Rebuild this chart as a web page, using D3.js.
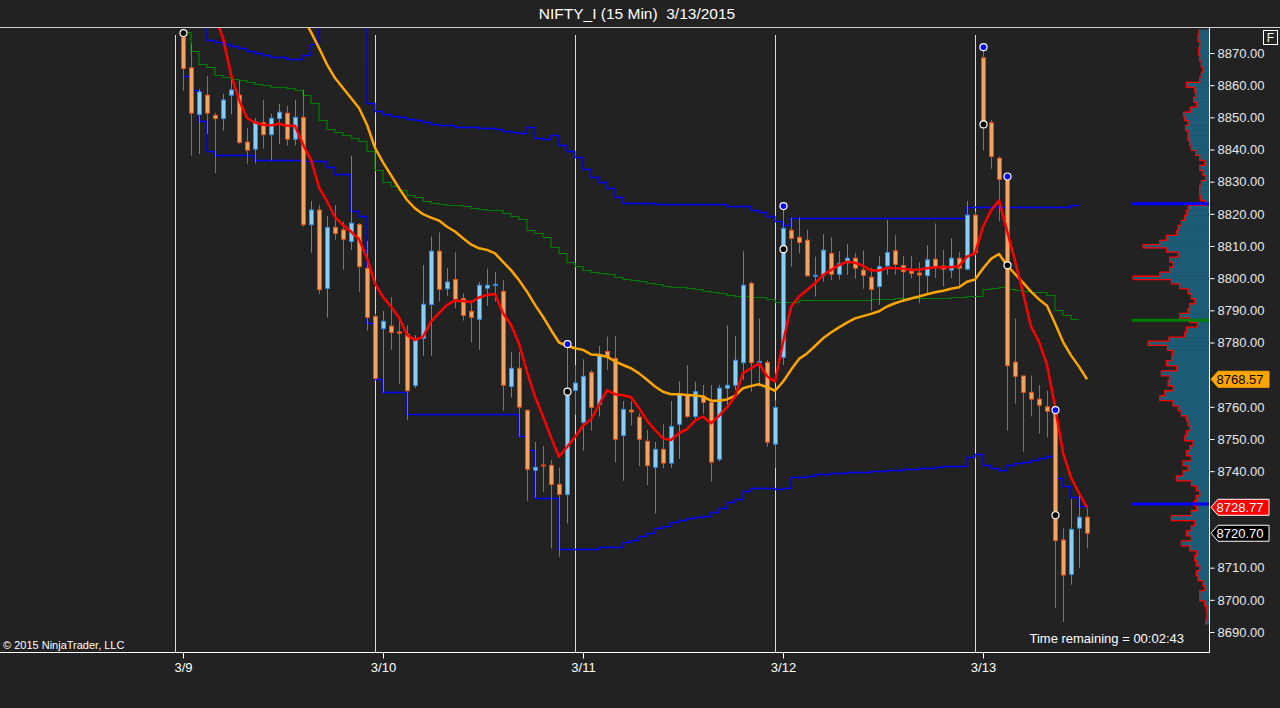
<!DOCTYPE html>
<html>
<head>
<meta charset="utf-8">
<script src="https://cdn.jsdelivr.net/npm/d3@7"></script>
<style>
html, body { margin: 0; padding: 0; background: #222222; }
svg { display: block; font-family: "Liberation Sans", Arial, sans-serif; }
</style>
</head>
<body>
<svg id="chart" width="1280" height="708"></svg>
<script>

// ---- data (15 min bars, bar index 1 = first bar of 3/9) ----
var firstBar = 1;
var dayLabels = ['3/9', '3/10', '3/11', '3/12', '3/13'];
var dayBreakBars = [0, 25, 50, 75, 100];
var dayTickBars = [1, 26, 51, 76, 101];

var opens = [8874.9, 8865.4, 8850.9, 8856.9, 8850.6, 8849.6, 8856.9, 8856.9, 8842.3, 8840.1,
  8848.4, 8844.6, 8849.6, 8851.3, 8843.2, 8850.0, 8816.6, 8821.2, 8796.8, 8815.8,
  8815.0, 8811.4, 8816.7, 8803.1, 8788.1, 8784.3, 8785.1, 8783.3, 8782.6, 8766.6,
  8781.3, 8791.8, 8808.4, 8796.7, 8799.6, 8793.7, 8789.7, 8787.2, 8796.9, 8797.9,
  8795.9, 8766.3, 8772.0, 8758.9, 8740.3, 8741.9, 8741.8, 8735.9, 8732.7, 8765.1,
  8755.2, 8770.7, 8760.7, 8777.2, 8775.1, 8751.1, 8759.0, 8756.8, 8749.3, 8741.2,
  8746.8, 8742.5, 8754.6, 8763.5, 8757.0, 8763.4, 8761.4, 8743.7, 8765.8, 8766.7,
  8773.7, 8798.4, 8773.8, 8773.8, 8748.4, 8775.4, 8814.9, 8812.7, 8811.8, 8800.7,
  8801.0, 8807.7, 8801.2, 8804.8, 8806.2, 8802.5, 8800.3, 8797.4, 8803.8, 8808.5,
  8803.9, 8802.2, 8801.6, 8800.8, 8805.9, 8803.8, 8802.5, 8806.2, 8802.8, 8819.6,
  8868.5, 8848.3, 8837.3, 8830.7, 8773.9, 8769.6, 8764.5, 8762.4, 8760.0, 8758.8,
  8718.6, 8707.9, 8722.3, 8725.7];
var highs = [8876.2, 8873.0, 8858.8, 8862.9, 8851.4, 8857.3, 8862.3, 8861.4, 8846.7, 8849.8,
  8855.4, 8851.1, 8854.2, 8853.6, 8855.4, 8858.6, 8824.0, 8822.8, 8819.3, 8822.8,
  8817.6, 8838.1, 8817.1, 8811.6, 8789.0, 8789.8, 8794.1, 8788.0, 8785.4, 8782.3,
  8804.1, 8812.9, 8814.2, 8803.1, 8808.0, 8795.3, 8793.2, 8798.8, 8802.9, 8801.9,
  8799.4, 8777.1, 8777.1, 8759.2, 8749.1, 8747.8, 8743.5, 8741.1, 8779.5, 8773.0,
  8774.8, 8771.5, 8778.9, 8781.8, 8782.0, 8761.8, 8761.8, 8758.0, 8752.8, 8749.1,
  8754.7, 8761.8, 8768.0, 8773.0, 8767.8, 8766.8, 8766.8, 8766.8, 8785.4, 8782.0,
  8808.4, 8798.9, 8787.5, 8774.6, 8762.0, 8822.4, 8818.8, 8818.8, 8815.0, 8806.7,
  8813.7, 8812.7, 8808.4, 8810.6, 8807.9, 8808.6, 8803.1, 8806.9, 8818.1, 8813.4,
  8806.9, 8806.9, 8805.0, 8810.3, 8817.0, 8808.8, 8812.4, 8808.1, 8824.0, 8820.7,
  8871.8, 8849.2, 8837.9, 8831.6, 8787.4, 8769.7, 8769.7, 8766.8, 8765.0, 8759.0,
  8722.2, 8731.4, 8732.9, 8728.5];
var lows = [8858.3, 8838.1, 8838.6, 8844.8, 8832.7, 8845.9, 8850.9, 8841.7, 8835.6, 8835.7,
  8840.3, 8836.6, 8841.7, 8841.2, 8841.3, 8816.0, 8807.9, 8795.1, 8787.7, 8811.9,
  8802.6, 8808.8, 8795.8, 8783.7, 8768.4, 8764.4, 8777.7, 8767.1, 8755.9, 8765.8,
  8775.9, 8775.9, 8792.7, 8794.5, 8790.6, 8786.8, 8780.0, 8777.7, 8791.4, 8792.7,
  8758.8, 8762.9, 8750.7, 8730.8, 8731.8, 8733.6, 8716.0, 8713.4, 8723.8, 8757.5,
  8746.4, 8752.6, 8757.0, 8771.5, 8742.7, 8737.0, 8754.2, 8741.6, 8735.7, 8726.9,
  8740.9, 8741.0, 8743.8, 8756.5, 8755.9, 8757.8, 8736.8, 8743.0, 8760.1, 8765.2,
  8768.4, 8764.7, 8766.3, 8747.6, 8741.0, 8773.0, 8803.6, 8807.7, 8800.5, 8794.3,
  8798.9, 8799.4, 8799.6, 8801.0, 8799.8, 8796.7, 8789.9, 8791.7, 8801.0, 8801.0,
  8793.0, 8800.0, 8792.2, 8795.3, 8800.0, 8797.4, 8800.0, 8797.4, 8802.5, 8807.2,
  8839.7, 8834.0, 8817.7, 8752.6, 8761.0, 8746.1, 8757.0, 8751.7, 8750.5, 8697.5,
  8693.1, 8704.7, 8710.0, 8716.0];
var closes = [8865.2, 8851.3, 8857.9, 8851.3, 8849.6, 8855.4, 8858.5, 8842.2, 8839.8, 8848.5,
  8844.6, 8849.7, 8851.6, 8843.2, 8850.0, 8816.6, 8821.2, 8796.4, 8815.8, 8813.9,
  8812.1, 8817.1, 8803.6, 8787.8, 8768.8, 8786.6, 8783.1, 8782.9, 8765.0, 8781.0,
  8791.9, 8808.4, 8796.5, 8798.8, 8793.5, 8788.4, 8787.8, 8797.8, 8797.8, 8798.1,
  8766.7, 8772.0, 8759.9, 8740.6, 8741.2, 8741.7, 8735.9, 8732.8, 8765.2, 8767.4,
  8769.5, 8759.8, 8776.3, 8775.6, 8749.9, 8759.2, 8758.4, 8749.9, 8741.7, 8746.8,
  8742.5, 8753.9, 8763.9, 8757.0, 8764.7, 8761.4, 8742.8, 8765.8, 8766.7, 8774.5,
  8797.8, 8773.7, 8774.1, 8749.0, 8759.8, 8815.5, 8812.4, 8811.1, 8800.7, 8800.9,
  8808.7, 8801.2, 8804.6, 8806.2, 8803.1, 8800.9, 8796.5, 8803.6, 8808.0, 8804.3,
  8802.0, 8801.5, 8801.0, 8805.7, 8803.4, 8802.8, 8806.2, 8803.1, 8819.6, 8807.9,
  8848.5, 8837.8, 8830.7, 8772.8, 8769.5, 8764.5, 8762.4, 8760.5, 8758.6, 8718.4,
  8707.7, 8721.9, 8725.7, 8720.70];

// fast average (red), starts at bar 5
var fastStart = 5;
var fastAvg = [8881, 8874.7, 8863.3, 8855.5, 8849.8, 8848.4, 8847.7, 8847.5, 8848.0, 8847.4,
  8847.4, 8841.5, 8836.8, 8828.2, 8823.9, 8819.0, 8816.5, 8814.5, 8812.1, 8806.2,
  8798.4, 8794.1, 8791.2, 8787.8, 8782.3, 8780.8, 8781.8, 8786.5, 8789.1, 8791.7,
  8793.0, 8792.9, 8792.5, 8794.0, 8794.8, 8795.1, 8789.1, 8785.5, 8779.7, 8770.9,
  8763.2, 8757.0, 8750.5, 8744.5, 8747.5, 8750.6, 8754.1, 8756.1, 8760.6, 8765.2,
  8763.9, 8763.6, 8763.0, 8759.6, 8755.7, 8752.8, 8750.2, 8749.7, 8751.8, 8753.1,
  8755.7, 8757.0, 8754.9, 8757.2, 8759.9, 8763.2, 8770.5, 8772.0, 8773.5, 8769.5,
  8767.8, 8780.0, 8791.1, 8794.3, 8796.3, 8798.4, 8801.0, 8802.5, 8804.1, 8805.1,
  8804.8, 8803.8, 8802.4, 8802.4, 8803.2, 8803.1, 8802.9, 8802.6, 8802.6, 8803.1,
  8803.4, 8803.4, 8803.4, 8803.8, 8806.7, 8807.7, 8816.0, 8821.0, 8824.2, 8814.8,
  8805.4, 8795.5, 8785.0, 8780.2, 8773.1, 8760.0, 8745.7, 8738.0, 8733.2, 8728.77];

// slow average (orange), starts at bar 16
var slowStart = 16;
var slowAvg = [8881, 8876.5, 8871.6, 8866.4, 8862.2, 8859.1, 8856.0, 8852.9, 8847.7,
  8840.5, 8836.0, 8832.0, 8828.0, 8824.3, 8821.7, 8819.9, 8818.8, 8817.9, 8816.0,
  8814.5, 8812.4, 8810.5, 8809.3, 8808.8, 8807.7, 8805.1, 8802.5, 8799.4, 8795.8,
  8791.7, 8788.0, 8783.9, 8780.0, 8779.0, 8778.2, 8777.7, 8776.3, 8776.1, 8775.6,
  8774.1, 8773.0, 8772.0, 8770.4, 8768.4, 8766.3, 8764.7, 8763.9, 8763.9, 8763.7,
  8763.5, 8763.2, 8761.9, 8761.9, 8762.3, 8763.4, 8765.8, 8766.5, 8767.0, 8766.1,
  8765.0, 8767.8, 8771.5, 8774.9, 8776.6, 8778.9, 8781.3, 8783.1, 8784.7, 8786.2,
  8787.5, 8788.2, 8788.9, 8789.7, 8791.2, 8792.2, 8793.0, 8793.7, 8794.3, 8795.0,
  8795.6, 8796.1, 8796.7, 8797.2, 8798.9, 8799.6, 8803.0, 8806.0, 8807.5, 8804.0,
  8801.3, 8798.6, 8795.8, 8793.4, 8791.4, 8786.0, 8780.2, 8776.0, 8772.5, 8768.57];

// upper blue band (step), starts at bar 3
var upperStart = 3;
var upperBand = [8880, 8874.1, 8873.4, 8872.8, 8872.1, 8871.5, 8870.7, 8870.0, 8869.3, 8868.9,
  8868.7, 8868.2, 8868.0, 8869.3, 8872.8, 8880, 8880, 8880, 8880, 8880,
  8880, 8854.5, 8851.9, 8851.0, 8850.3, 8850.0, 8849.5, 8849.2, 8848.4, 8847.8,
  8847.5, 8847.5, 8847.1, 8846.9, 8846.9, 8846.6, 8846.6, 8846.3, 8845.8, 8845.3,
  8845.1, 8846.9, 8843.6, 8843.4, 8844.4, 8841.3, 8839.4, 8837.6, 8833.8, 8831.5,
  8830.0, 8828.1, 8825.3, 8823.3, 8823.3, 8823.3, 8823.3, 8823.0, 8823.0, 8823.0,
  8823.0, 8823.0, 8823.0, 8823.0, 8823.0, 8823.0, 8822.4, 8822.4, 8822.4, 8821.2,
  8820.5, 8819.3, 8817.8, 8816.5, 8818.8, 8818.8, 8818.8, 8818.8, 8818.8, 8818.8,
  8818.8, 8818.8, 8818.8, 8818.8, 8818.8, 8818.8, 8818.8, 8818.8, 8818.8, 8818.8,
  8818.8, 8818.8, 8818.8, 8818.8, 8818.8, 8818.8, 8822.2, 8822.2, 8822.2, 8822.2,
  8822.2, 8822.2, 8822.2, 8822.2, 8822.2, 8822.2, 8822.2, 8822.2, 8822.2, 8822.7];

// lower blue band (step), starts at bar 1
var lowerStart = 1;
var lowerBand = [8862.7, 8858.6, 8848.8, 8839.4, 8838.2, 8838.2, 8838.2, 8838.2, 8838.2, 8836.6,
  8836.6, 8836.6, 8836.6, 8836.6, 8836.6, 8836.3, 8836.3, 8836.3, 8834.5, 8832.4,
  8832.4, 8820.8, 8819.2, 8786.0, 8768.6, 8764.5, 8764.5, 8764.5, 8757.7, 8757.7,
  8757.7, 8757.7, 8757.7, 8757.7, 8757.7, 8757.7, 8757.7, 8757.7, 8757.7, 8757.7,
  8757.7, 8757.7, 8751.0, 8746.6, 8731.6, 8731.6, 8731.6, 8715.7, 8715.7, 8715.7,
  8715.7, 8715.7, 8716.3, 8716.3, 8716.3, 8717.9, 8718.6, 8719.7, 8720.7, 8722.2,
  8723.1, 8724.1, 8724.8, 8725.4, 8725.9, 8726.2, 8727.3, 8728.5, 8730.5, 8731.2,
  8733.9, 8734.7, 8734.7, 8734.7, 8734.5, 8734.7, 8738.3, 8738.3, 8738.5, 8739.0,
  8739.0, 8739.3, 8739.3, 8739.7, 8739.7, 8739.7, 8740.0, 8740.0, 8740.4, 8740.4,
  8740.7, 8740.7, 8740.9, 8740.9, 8741.2, 8741.7, 8741.7, 8741.7, 8744.3, 8745.3,
  8741.9, 8740.9, 8740.4, 8741.9, 8742.4, 8743.0, 8743.5, 8744.0, 8744.6, 8738.0,
  8735.4, 8731.9, 8729.1];

// green step line, starts at bar 1
var greenStart = 1;
var greenLine = [8876.5, 8870.5, 8866.6, 8865.5, 8863.1, 8862.4, 8862.0, 8861.7, 8861.0, 8860.4,
  8860.0, 8859.3, 8859.3, 8859.0, 8858.6, 8857.0, 8854.5, 8849.3, 8846.4, 8845.3,
  8844.6, 8843.6, 8842.5, 8839.4, 8833.5, 8829.8, 8828.5, 8827.5, 8825.8, 8825.1,
  8823.9, 8823.4, 8823.1, 8822.6, 8822.6, 8822.3, 8821.8, 8821.4, 8821.1, 8821.1,
  8820.3, 8819.2, 8818.4, 8815.0, 8814.0, 8812.7, 8809.6, 8807.8, 8805.0, 8803.7,
  8802.5, 8801.8, 8801.5, 8801.2, 8800.5, 8799.6, 8799.3, 8799.1, 8798.6, 8798.1,
  8797.6, 8797.2, 8797.2, 8796.8, 8796.5, 8796.1, 8795.6, 8795.3, 8794.8, 8794.5,
  8794.5, 8794.3, 8794.0, 8793.4, 8792.5, 8792.7, 8792.7, 8793.1, 8793.1, 8793.1,
  8793.1, 8793.1, 8793.1, 8793.1, 8793.1, 8793.1, 8793.5, 8793.5, 8793.5, 8793.9,
  8793.9, 8793.9, 8793.9, 8793.9, 8793.9, 8793.9, 8794.3, 8794.3, 8794.5, 8794.5,
  8796.5, 8796.8, 8797.2, 8796.5, 8796.3, 8796.1, 8795.8, 8795.6, 8794.8, 8790.1,
  8788.5, 8787.3];

// swing markers
var markerBars   = [1, 49, 49, 76, 76, 101, 101, 104, 104, 110, 110];
var markerPrices = [8876.2, 8779.5, 8764.7, 8822.4, 8809.0, 8871.8, 8847.8, 8831.6, 8804.0, 8759.0, 8726.3];
var markerKinds  = ['low', 'high', 'low', 'high', 'low', 'high', 'low', 'high', 'low', 'high', 'low'];

// volume profile on the right
var profileLevels = [8876.5, 8874.7, 8872.6, 8870.5, 8868.4, 8866.4, 8864.8, 8863.3, 8861.7, 8860.0,
  8858.6, 8857.0, 8855.5, 8854.0, 8852.4, 8850.8, 8849.6, 8848.3, 8846.7, 8845.1,
  8843.6, 8842.0, 8840.5, 8838.9, 8837.4, 8835.8, 8834.3, 8832.7, 8831.1, 8829.6,
  8828.0, 8826.5, 8824.9, 8823.4, 8821.8, 8820.3, 8818.7, 8817.2, 8815.6, 8814.1,
  8812.5, 8811.0, 8809.9, 8808.9, 8807.3, 8805.8, 8804.2, 8802.6, 8801.1, 8800.1,
  8799.0, 8797.5, 8795.9, 8794.4, 8792.8, 8791.3, 8789.7, 8788.4, 8786.9, 8785.5,
  8784.0, 8782.4, 8780.9, 8779.9, 8778.3, 8776.8, 8775.2, 8773.5, 8772.0, 8770.4,
  8768.9, 8767.3, 8765.8, 8764.2, 8762.7, 8761.1, 8759.5, 8758.0, 8756.4, 8754.9,
  8753.3, 8751.8, 8750.2, 8748.7, 8747.1, 8745.6, 8744.0, 8742.4, 8740.9, 8739.3,
  8737.8, 8736.2, 8734.7, 8733.1, 8731.6, 8730.0, 8728.5, 8726.9, 8725.4, 8723.8,
  8722.2, 8720.7, 8719.1, 8717.6, 8716.0, 8714.5, 8712.9, 8711.4, 8709.8, 8708.3,
  8706.7, 8705.2, 8703.6, 8702.1, 8700.5, 8698.9, 8697.4, 8695.8, 8694.3, 8693.2];
var profileVols = [30, 33, 28, 31, 28, 23, 18, 23, 28, 68,
  43, 40, 46, 38, 56, 76, 73, 63, 70, 63,
  63, 58, 53, 40, 28, 13, 28, 18, 10, 23,
  28, 28, 26, 13, 63, 68, 73, 83, 93, 98,
  128, 148, 198, 128, 93, 118, 108, 118, 148, 228,
  113, 88, 63, 53, 43, 58, 63, 88, 58, 36,
  68, 73, 120, 183, 125, 110, 112, 128, 98, 143,
  118, 123, 108, 133, 148, 108, 93, 83, 68, 63,
  58, 68, 73, 48, 58, 68, 53, 78, 63, 78,
  98, 53, 38, 28, 38, 43, 38, 53, 113, 43,
  53, 68, 53, 83, 58, 38, 43, 38, 28, 38,
  33, 18, 13, 28, 28, 13, 8, 6, 6, 10];
var profileLines = [8823.1, 8786.9, 8729.8];
var profileLineColors = ['#0000ff', '#008000', '#0000ff'];

var priceTicks = [8690, 8700, 8710, 8720, 8730, 8740, 8750, 8760, 8770, 8780,
  8790, 8800, 8810, 8820, 8830, 8840, 8850, 8860, 8870];

// ---- drawing ----
var svg = d3.select('#chart');
var plotRight = 1209, plotTop = 28, plotBottom = 652;

svg.append('rect').attr('width', 1280).attr('height', 708).attr('fill', '#222222');

var x = d3.scaleLinear().domain([0, 114]).range([175, 1087]);
var y = d3.scaleLinear().domain([8690, 8870]).range([632, 53]);

svg.append('defs').append('clipPath').attr('id', 'plotclip')
  .append('rect').attr('x', 0).attr('y', plotTop)
  .attr('width', plotRight).attr('height', plotBottom - plotTop);

var plot = svg.append('g').attr('clip-path', 'url(#plotclip)');

// day separators
plot.selectAll('.daysep')
  .data(dayBreakBars)
  .enter().append('line')
  .attr('x1', function(d) { return x(d) + 0.5; })
  .attr('x2', function(d) { return x(d) + 0.5; })
  .attr('y1', 35).attr('y2', plotBottom)
  .attr('stroke', '#d8d8d8').attr('stroke-width', 1);

// step lines
function stepPoints(start, vals) {
  var pts = vals.map(function(v, i) { return [start + i, v]; });
  pts.push([start + vals.length, vals[vals.length - 1]]);
  return pts;
}
var stepLine = d3.line()
  .x(function(d) { return x(d[0]); })
  .y(function(d) { return Math.round(y(d[1])) + 0.5; })
  .curve(d3.curveStepAfter);

plot.append('path').datum(stepPoints(greenStart, greenLine))
  .attr('d', stepLine).attr('fill', 'none').attr('stroke', '#008000').attr('stroke-width', 1.2);
plot.append('path').datum(stepPoints(upperStart, upperBand))
  .attr('d', stepLine).attr('fill', 'none').attr('stroke', '#0000ff').attr('stroke-width', 1.3);
plot.append('path').datum(stepPoints(lowerStart, lowerBand))
  .attr('d', stepLine).attr('fill', 'none').attr('stroke', '#0000ff').attr('stroke-width', 1.3);

// candles
var bars = opens.map(function(o, i) {
  return { n: firstBar + i, o: o, h: highs[i], l: lows[i], c: closes[i] };
});
var upWick = '#1e90ff', upFill = '#87cefa';
var dnWick = '#ff4500', dnFill = '#f4a460';

plot.selectAll('.wick')
  .data(bars)
  .enter().append('line')
  .attr('x1', function(d) { return Math.round(x(d.n)) + 0.5; })
  .attr('x2', function(d) { return Math.round(x(d.n)) + 0.5; })
  .attr('y1', function(d) { return y(d.h); })
  .attr('y2', function(d) { return y(d.l); })
  .attr('stroke', function(d) { return d.c >= d.o ? upWick : dnWick; })
  .attr('stroke-width', 1);

plot.selectAll('.body')
  .data(bars)
  .enter().append('rect')
  .attr('x', function(d) { return Math.round(x(d.n)) - 1.5; })
  .attr('y', function(d) { return y(Math.max(d.o, d.c)); })
  .attr('width', 4)
  .attr('height', function(d) { return Math.max(1, Math.abs(y(d.o) - y(d.c))); })
  .attr('fill', function(d) { return d.c >= d.o ? upFill : dnFill; })
  .attr('stroke', function(d) { return d.c >= d.o ? upWick : dnWick; })
  .attr('stroke-width', 1);

// averages
var avgLine = d3.line()
  .x(function(d) { return x(d[0]); })
  .y(function(d) { return y(d[1]); });

plot.append('path')
  .datum(slowAvg.map(function(v, i) { return [slowStart + i, v]; }))
  .attr('d', avgLine).attr('fill', 'none')
  .attr('stroke', '#ffa500').attr('stroke-width', 2.5).attr('stroke-linejoin', 'round');
plot.append('path')
  .datum(fastAvg.map(function(v, i) { return [fastStart + i, v]; }))
  .attr('d', avgLine).attr('fill', 'none')
  .attr('stroke', '#ff0000').attr('stroke-width', 2.5).attr('stroke-linejoin', 'round');

// swing markers
plot.selectAll('.marker')
  .data(markerBars)
  .enter().append('circle')
  .attr('cx', function(d) { return x(d) + 0.5; })
  .attr('cy', function(d, i) { return y(markerPrices[i]); })
  .attr('r', 3.5)
  .attr('fill', function(d, i) { return markerKinds[i] == 'high' ? '#0000ff' : '#000000'; })
  .attr('stroke', '#ffffff').attr('stroke-width', 1.2);

// volume profile
var pw = d3.scaleLinear().domain([0, 228]).range([0, 76]);
var rows = profileLevels.map(function(lv, i) {
  var top = i == 0 ? lv + 0.8 : (profileLevels[i - 1] + lv) / 2;
  var bot = i == profileLevels.length - 1 ? lv - 0.8 : (lv + profileLevels[i + 1]) / 2;
  return { y0: y(top), y1: y(bot), w: pw(profileVols[i]) };
});
var prof = svg.append('g');
prof.selectAll('rect')
  .data(rows)
  .enter().append('rect')
  .attr('x', function(d) { return plotRight - d.w; })
  .attr('y', function(d) { return d.y0; })
  .attr('width', function(d) { return d.w; })
  .attr('height', function(d) { return d.y1 - d.y0 + 0.3; })
  .attr('fill', '#1d5c76');
var edgePts = [];
rows.forEach(function(d) {
  edgePts.push([plotRight - d.w, d.y0]);
  edgePts.push([plotRight - d.w, d.y1]);
});
prof.append('path')
  .attr('d', d3.line()(edgePts))
  .attr('fill', 'none').attr('stroke', '#ff0000').attr('stroke-width', 1.3);
prof.selectAll('.vaLine')
  .data(profileLines)
  .enter().append('line')
  .attr('x1', 1132).attr('x2', plotRight)
  .attr('y1', function(d) { return y(d); })
  .attr('y2', function(d) { return y(d); })
  .attr('stroke', function(d, i) { return profileLineColors[i]; })
  .attr('stroke-width', 3);

// frame and axes
svg.append('line').attr('x1', 0).attr('x2', 1280).attr('y1', 27.5).attr('y2', 27.5)
  .attr('stroke', '#cfcfcf').attr('stroke-width', 1);
svg.append('line').attr('x1', 0).attr('x2', plotRight + 0.5)
  .attr('y1', plotBottom + 0.5).attr('y2', plotBottom + 0.5)
  .attr('stroke', '#ffffff').attr('stroke-width', 1);

// price tags: slow average, fast average, last close
var tagValues = [slowAvg[slowAvg.length - 1], fastAvg[fastAvg.length - 1], closes[closes.length - 1]];
var tagFills = ['#ffa500', '#ff0000', '#000000'];
var tagText = ['#000000', '#ffffff', '#ffffff'];
var tagStroke = ['#ffa500', '#ffffff', '#ffffff'];

// tick labels hidden under a tag are not drawn (the tag covers them)
var shownTicks = priceTicks.filter(function(t) {
  return tagValues.every(function(v) { return Math.abs(y(t) - y(v)) > 10; });
});

var yAxis = svg.append('g')
  .attr('transform', 'translate(' + (plotRight + 0.5) + ',0)')
  .call(d3.axisRight(y).tickValues(shownTicks).tickFormat(d3.format('.2f')).tickSize(5).tickPadding(3));
yAxis.select('.domain').attr('stroke', '#ffffff').attr('d', 'M0,' + plotTop + 'V' + (plotBottom + 0.5));
yAxis.selectAll('.tick line').attr('stroke', '#ffffff');
yAxis.selectAll('.tick text').attr('fill', '#e8e8e8')
  .style('font-size', '13px').style('font-family', '"Liberation Sans", Arial, sans-serif');

var xAxis = svg.append('g')
  .attr('transform', 'translate(0,' + (plotBottom + 0.5) + ')')
  .call(d3.axisBottom(x).tickValues(dayTickBars)
    .tickFormat(function(d, i) { return dayLabels[i]; }).tickSize(6).tickPadding(4));
xAxis.select('.domain').remove();
xAxis.selectAll('.tick line').attr('stroke', '#ffffff');
xAxis.selectAll('.tick text').attr('fill', '#ffffff')
  .style('font-size', '13px').style('font-family', '"Liberation Sans", Arial, sans-serif');

var tags = svg.append('g');
tagValues.forEach(function(v, i) {
  var yc = y(v);
  tags.append('path')
    .attr('d', 'M' + (plotRight + 2) + ',' + yc + 'L' + (plotRight + 9) + ',' + (yc - 8) +
      'H1269V' + (yc + 8) + 'H' + (plotRight + 9) + 'Z')
    .attr('fill', tagFills[i]).attr('stroke', tagStroke[i]).attr('stroke-width', 1);
  tags.append('text')
    .attr('x', 1240).attr('y', yc + 4.5)
    .attr('text-anchor', 'middle')
    .attr('fill', tagText[i]).style('font-size', '13px')
    .text(v.toFixed(2));
});

// "F" box
svg.append('rect').attr('x', 1263.5).attr('y', 30.5).attr('width', 14).attr('height', 14)
  .attr('fill', 'none').attr('stroke', '#ffffff');
svg.append('text').attr('x', 1270.5).attr('y', 42).attr('text-anchor', 'middle')
  .attr('fill', '#ffffff').style('font-size', '12px').text('F');

// texts
svg.append('text').attr('x', 637).attr('y', 19).attr('text-anchor', 'middle')
  .attr('fill', '#ffffff').style('font-size', '15.5px').style('white-space', 'pre')
  .text('NIFTY_I (15 Min)  3/13/2015');
svg.append('text').attr('x', 3).attr('y', 649)
  .attr('fill', '#ffffff').style('font-size', '11px')
  .text('\u00a9 2015 NinjaTrader, LLC');
svg.append('text').attr('x', 1184).attr('y', 643).attr('text-anchor', 'end')
  .attr('fill', '#ffffff').style('font-size', '13px')
  .text('Time remaining = 00:02:43');

</script>
</body>
</html>
